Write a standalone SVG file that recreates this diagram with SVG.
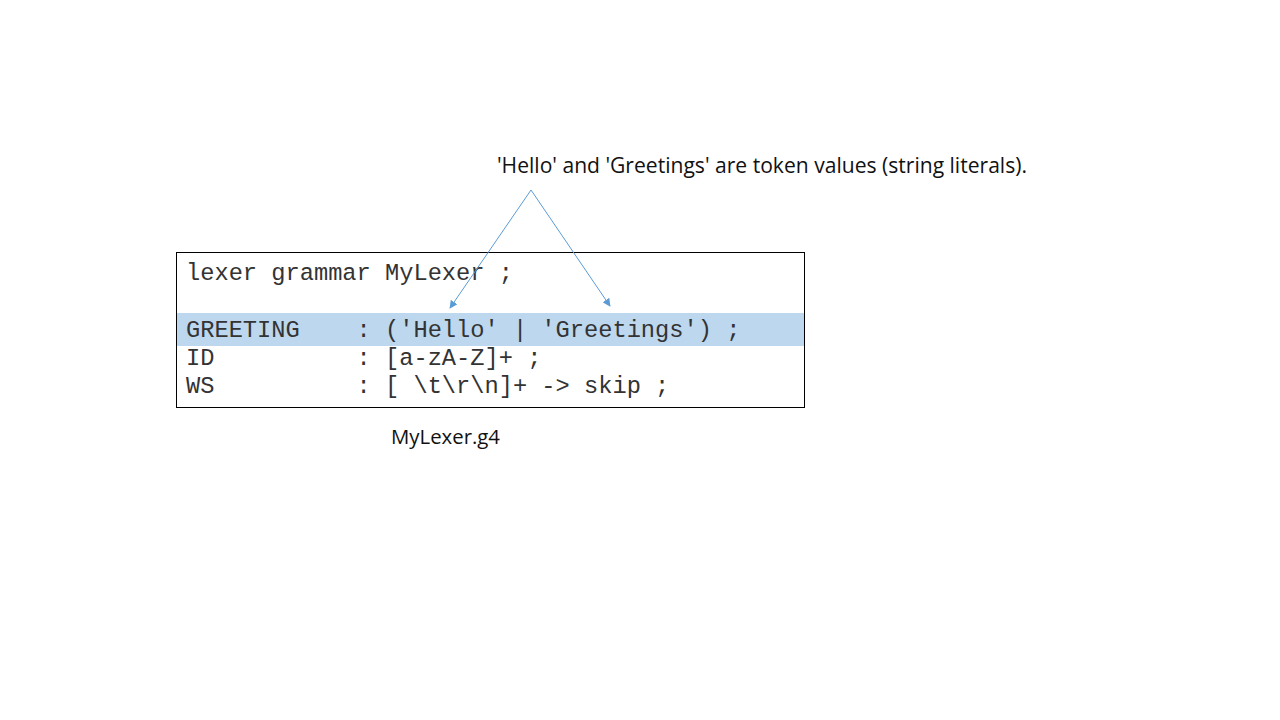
<svg xmlns="http://www.w3.org/2000/svg" width="1280" height="720" viewBox="0 0 1280 720">
<defs>
<style>
.code{font-family:"Liberation Mono","DejaVu Sans Mono",monospace;font-size:23.7px;fill:#333}
.lbl{font-family:"Open Sans","Liberation Sans",sans-serif;fill:#111}
.conn{stroke:#5b9bd5;stroke-width:1;fill:none}
</style>
<marker id="ah" viewBox="0 0 10 10" refX="9" refY="5" markerWidth="8" markerHeight="8" orient="auto" markerUnits="userSpaceOnUse">
<path d="M0,0 L10,5 L0,10 z" fill="#5b9bd5"/>
</marker>
</defs>
<rect width="1280" height="720" fill="#fff"/>
<g id="code-box">
<rect x="176.5" y="252.5" width="628" height="155" fill="#fff" stroke="#000" stroke-width="1"/>
<rect x="177" y="313" width="627" height="33" fill="#bdd7ee"/>
<text class="code" x="186" y="280" xml:space="preserve">lexer grammar MyLexer ;</text>
<text class="code" x="186" y="337" xml:space="preserve">GREETING    : ('Hello' | 'Greetings') ;</text>
<text class="code" x="186" y="365" xml:space="preserve">ID          : [a-zA-Z]+ ;</text>
<text class="code" x="186" y="393" xml:space="preserve">WS          : [ \t\r\n]+ -&gt; skip ;</text>
</g>
<g id="note">
<text class="lbl" x="497" y="173" font-size="21.1" textLength="530" lengthAdjust="spacingAndGlyphs">'Hello' and 'Greetings' are token values (string literals).</text>
</g>
<g id="filename">
<text class="lbl" x="391" y="444" font-size="20.3" textLength="109" lengthAdjust="spacingAndGlyphs">MyLexer.g4</text>
</g>
<g id="connectors">
<line class="conn" x1="531" y1="190" x2="450" y2="308" marker-end="url(#ah)"/>
<line class="conn" x1="531" y1="190" x2="610" y2="306" marker-end="url(#ah)"/>
</g>
</svg>
